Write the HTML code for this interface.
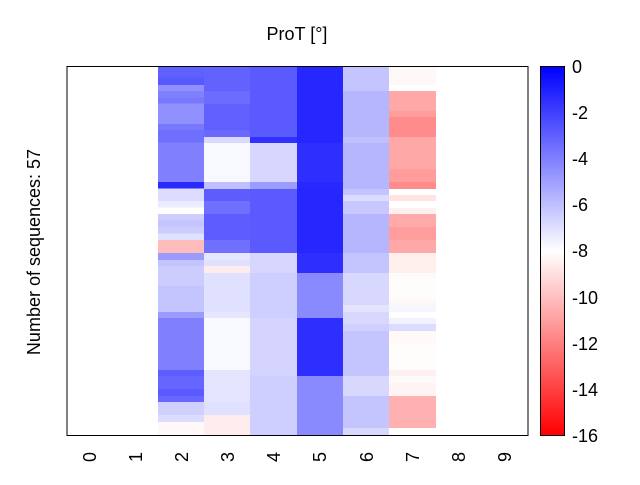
<!DOCTYPE html>
<html><head><meta charset="utf-8"><style>
body{margin:0;background:#fff;}
svg text{font-family:"Liberation Sans",sans-serif;fill:#000;}
</style></head><body>
<svg width="640" height="480" xmlns="http://www.w3.org/2000/svg">
<defs><linearGradient id="cb" x1="0" y1="0" x2="0" y2="1">
<stop offset="0" stop-color="#0000ff"/><stop offset="0.5" stop-color="#ffffff"/><stop offset="1" stop-color="#ff0000"/></linearGradient></defs>
<g shape-rendering="crispEdges">
<g transform="translate(158,0)">
<rect y="66" height="12" width="46" fill="#6060ff"/><rect y="77.7" height="7.5" width="46" fill="#5858ff"/><rect y="85" height="6" width="46" fill="#9090ff"/><rect y="91" height="7" width="46" fill="#8080ff"/><rect y="97.7" height="6" width="46" fill="#7878ff"/><rect y="103.7" height="20.5" width="46" fill="#9090ff"/><rect y="124" height="6" width="46" fill="#7878ff"/><rect y="130" height="7" width="46" fill="#6e6eff"/><rect y="136.7" height="6" width="46" fill="#7070ff"/><rect y="142.7" height="39.5" width="46" fill="#8080ff"/><rect y="182" height="7" width="46" fill="#2a2aff"/><rect y="188.7" height="12.5" width="46" fill="#dcdcff"/><rect y="201" height="7" width="46" fill="#ececff"/><rect y="207.7" height="6.5" width="46" fill="#ffffff"/><rect y="214" height="7" width="46" fill="#ccccff"/><rect y="220.7" height="6" width="46" fill="#c4c4ff"/><rect y="226.7" height="7" width="46" fill="#ccccff"/><rect y="233.7" height="6.5" width="46" fill="#e0e0ff"/><rect y="240" height="13" width="46" fill="#ffbcbc"/><rect y="253" height="7" width="46" fill="#9a9aff"/><rect y="260" height="6" width="46" fill="#c4c4ff"/><rect y="266" height="20" width="46" fill="#ccccff"/><rect y="286" height="26" width="46" fill="#c4c4ff"/><rect y="312" height="6" width="46" fill="#9a9aff"/><rect y="318" height="52" width="46" fill="#8080ff"/><rect y="370" height="6" width="46" fill="#5c5cff"/><rect y="376" height="13" width="46" fill="#6666ff"/><rect y="389" height="7" width="46" fill="#5a5aff"/><rect y="396" height="6" width="46" fill="#6868ff"/><rect y="402" height="13" width="46" fill="#d0d0ff"/><rect y="415" height="7" width="46" fill="#dcdcff"/><rect y="422" height="13" width="46" fill="#fff8f8"/>
</g>
<g transform="translate(204,0)">
<rect y="66" height="25" width="46" fill="#6262ff"/><rect y="91" height="13" width="46" fill="#6c6cff"/><rect y="104" height="26" width="46" fill="#6060ff"/><rect y="130" height="7" width="46" fill="#6868ff"/><rect y="137" height="6" width="46" fill="#dadaff"/><rect y="143" height="39" width="46" fill="#f8f8ff"/><rect y="182" height="7" width="46" fill="#c0c0ff"/><rect y="189" height="12" width="46" fill="#5c5cff"/><rect y="201" height="13" width="46" fill="#7070ff"/><rect y="214" height="26" width="46" fill="#5c5cff"/><rect y="240" height="13" width="46" fill="#7070ff"/><rect y="253" height="7" width="46" fill="#e6e6ff"/><rect y="260" height="6" width="46" fill="#e0e0ff"/><rect y="266" height="7" width="46" fill="#ffecec"/><rect y="273" height="39" width="46" fill="#e0e0ff"/><rect y="312" height="6" width="46" fill="#e6e6ff"/><rect y="318" height="52" width="46" fill="#f8f8ff"/><rect y="370" height="32" width="46" fill="#e4e4ff"/><rect y="402" height="13" width="46" fill="#e0e0ff"/><rect y="415" height="20" width="46" fill="#ffecec"/>
</g>
<g transform="translate(250,0)">
<rect y="66" height="71" width="47" fill="#5a5aff"/><rect y="137" height="6" width="47" fill="#3030ff"/><rect y="143" height="39" width="47" fill="#d6d6ff"/><rect y="182" height="7" width="47" fill="#9c9cff"/><rect y="189" height="64" width="47" fill="#5a5aff"/><rect y="253" height="20" width="47" fill="#d6d6ff"/><rect y="273" height="45" width="47" fill="#ceceff"/><rect y="318" height="58" width="47" fill="#d4d4ff"/><rect y="376" height="59" width="47" fill="#ceceff"/>
</g>
<g transform="translate(297,0)">
<rect y="66" height="77" width="46" fill="#2626ff"/><rect y="143" height="39" width="46" fill="#2e2eff"/><rect y="182" height="7" width="46" fill="#2828ff"/><rect y="189" height="64" width="46" fill="#2626ff"/><rect y="253" height="20" width="46" fill="#2e2eff"/><rect y="273" height="45" width="46" fill="#8a8aff"/><rect y="318" height="58" width="46" fill="#2e2eff"/><rect y="376" height="59" width="46" fill="#8a8aff"/>
</g>
<g transform="translate(343,0)">
<rect y="66" height="25" width="46" fill="#c4c4ff"/><rect y="91" height="46" width="46" fill="#b6b6ff"/><rect y="137" height="6" width="46" fill="#c0c0ff"/><rect y="143" height="46" width="46" fill="#b6b6ff"/><rect y="189" height="6" width="46" fill="#c4c4ff"/><rect y="195" height="6" width="46" fill="#dcdcff"/><rect y="201" height="13" width="46" fill="#c8c8ff"/><rect y="214" height="39" width="46" fill="#b6b6ff"/><rect y="253" height="20" width="46" fill="#c4c4ff"/><rect y="273" height="32" width="46" fill="#d8d8ff"/><rect y="305" height="7" width="46" fill="#e4e4ff"/><rect y="312" height="12" width="46" fill="#d8d8ff"/><rect y="324" height="7" width="46" fill="#d0d0ff"/><rect y="331" height="45" width="46" fill="#c4c4ff"/><rect y="376" height="20" width="46" fill="#d8d8ff"/><rect y="396" height="32" width="46" fill="#c4c4ff"/><rect y="428" height="7" width="46" fill="#d8d8ff"/>
</g>
<g transform="translate(389,0)">
<rect y="66" height="19" width="47" fill="#fff8f8"/><rect y="91" height="20" width="47" fill="#ffa8a8"/><rect y="111" height="6" width="47" fill="#ff9c9c"/><rect y="117" height="20" width="47" fill="#ff8c8c"/><rect y="137" height="32" width="47" fill="#ffa8a8"/><rect y="169" height="13" width="47" fill="#ff9c9c"/><rect y="182" height="7" width="47" fill="#ff8c8c"/><rect y="195" height="6" width="47" fill="#ffe4e4"/><rect y="208" height="6" width="47" fill="#fff0f0"/><rect y="214" height="13" width="47" fill="#ffaaaa"/><rect y="227" height="13" width="47" fill="#ff9c9c"/><rect y="240" height="13" width="47" fill="#ffa8a8"/><rect y="253" height="20" width="47" fill="#fff0ee"/><rect y="273" height="6" width="47" fill="#fffafa"/><rect y="279" height="20" width="47" fill="#fffcfc"/><rect y="299" height="6" width="47" fill="#fff8f8"/><rect y="305" height="7" width="47" fill="#f6f6ff"/><rect y="318" height="6" width="47" fill="#f2f2ff"/><rect y="324" height="7" width="47" fill="#dcdcff"/><rect y="331" height="13" width="47" fill="#fffaf8"/><rect y="344" height="26" width="47" fill="#fffcfc"/><rect y="370" height="6" width="47" fill="#fff0f0"/><rect y="376" height="7" width="47" fill="#fffafa"/><rect y="383" height="13" width="47" fill="#fff4f4"/><rect y="396" height="32" width="47" fill="#ffb0b0"/>
</g>
<rect x="67" y="66.5" width="461" height="369" fill="none" stroke="#000" stroke-width="1"/>
<rect x="540.5" y="66.5" width="24" height="369" fill="url(#cb)" stroke="#000" stroke-width="1"/>
</g>
<text x="297" y="40" font-size="18" text-anchor="middle">ProT [°]</text>
<text transform="translate(40,252) rotate(-90)" font-size="18" text-anchor="middle">Number of sequences: 57</text>
<g font-size="18" text-anchor="middle">
<text transform="translate(96,457) rotate(-90)">0</text>
<text transform="translate(142,457) rotate(-90)">1</text>
<text transform="translate(188,457) rotate(-90)">2</text>
<text transform="translate(234,457) rotate(-90)">3</text>
<text transform="translate(280,457) rotate(-90)">4</text>
<text transform="translate(326,457) rotate(-90)">5</text>
<text transform="translate(373,457) rotate(-90)">6</text>
<text transform="translate(419,457) rotate(-90)">7</text>
<text transform="translate(465,457) rotate(-90)">8</text>
<text transform="translate(511,457) rotate(-90)">9</text>
</g>
<g font-size="18">
<text x="572" y="73">0</text>
<text x="572" y="119">-2</text>
<text x="572" y="165">-4</text>
<text x="572" y="211">-6</text>
<text x="572" y="257">-8</text>
<text x="572" y="304">-10</text>
<text x="572" y="350">-12</text>
<text x="572" y="396">-14</text>
<text x="572" y="442">-16</text>
</g>
</svg>
</body></html>
